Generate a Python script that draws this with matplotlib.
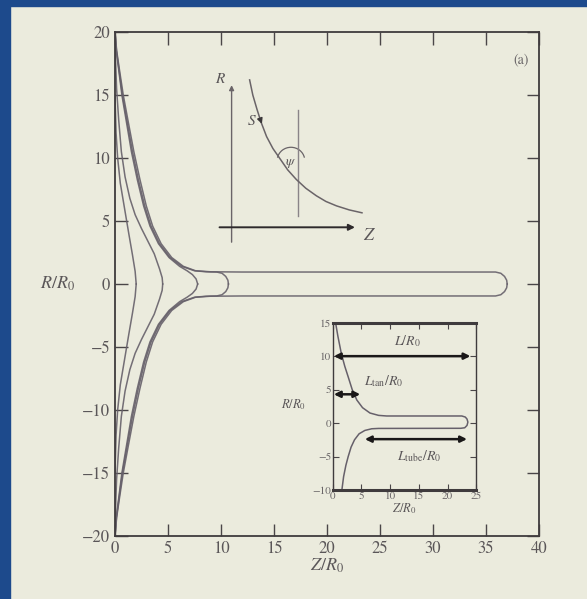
import matplotlib.pyplot as plt
from matplotlib.patches import Rectangle, Arc

plt.rcParams['font.family'] = ['STIXGeneral', 'DejaVu Serif']
plt.rcParams['mathtext.fontset'] = 'stix'

# membrane shapes, upper half (Z/R0, R/R0); lower half is the mirror image
shape_a_z = [0.0, 0.1, 0.25, 0.5, 0.9, 1.3, 1.65, 1.9, 2.0]
shape_a_r = [15, 12, 10, 8, 6, 4, 2.3, 1.0, 0]
shape_b_z = [0.0, 0.15, 0.35, 0.6, 0.95, 1.4, 1.9, 2.5, 3.1, 3.7, 4.2, 4.45, 4.5]
shape_b_r = [19, 15.5, 13, 10.5, 8.5, 6.8, 5.5, 4.4, 3.4, 2.4, 1.2, 0.5, 0]
shape_c_z = [0.0, 0.12, 0.35, 0.65, 1.05, 1.55, 2.1, 2.7, 3.3, 4.1, 5.1, 6.1, 6.8, 7.3, 7.65, 7.8]
shape_c_r = [20, 18.5, 17, 15, 13, 10.5, 8.3, 6.2, 4.6, 3.2, 2.1, 1.4, 1.05, 0.75, 0.4, 0]
shape_d_z = [0.0, 0.14, 0.38, 0.7, 1.12, 1.65, 2.2, 2.8, 3.4, 4.2, 5.2, 6.3, 7.5, 8.6, 9.6, 10.1, 10.45, 10.65, 10.7]
shape_d_r = [20, 18.5, 17, 15, 13, 10.5, 8.3, 6.2, 4.6, 3.2, 2.1, 1.4, 1.05, 0.97, 0.95, 0.85, 0.6, 0.3, 0]
shape_e_z = [0.0, 0.16, 0.42, 0.78, 1.22, 1.78, 2.35, 2.95, 3.55, 4.35, 5.35, 6.45, 7.6, 9.0, 12, 20, 30,
             35.9, 36.4, 36.75, 36.95, 37.0]
shape_e_r = [20, 18.5, 17, 15, 13, 10.5, 8.3, 6.2, 4.6, 3.2, 2.1, 1.4, 1.05, 0.97, 0.95, 0.95, 0.95,
             0.95, 0.85, 0.6, 0.3, 0]
shapes = [(shape_a_z, shape_a_r), (shape_b_z, shape_b_r), (shape_c_z, shape_c_r),
          (shape_d_z, shape_d_r), (shape_e_z, shape_e_r)]

# sketch of the coordinates (drawn in main-axes units)
sketch_curve_z = [12.7, 13.0, 13.4, 13.8, 14.3, 14.9, 15.6, 16.3, 17.1, 18.0, 19.0, 19.9, 20.9, 22.1, 23.3]
sketch_curve_r = [16.2, 15.0, 13.85, 12.8, 11.7, 10.75, 9.9, 9.05, 8.3, 7.6, 7.0, 6.55, 6.2, 5.88, 5.65]

# inset: the long tube shape
inset_z = [0.5, 0.9, 1.5, 2.1, 2.7, 3.4, 4.2, 5.2, 6.5, 8.0, 9.4, 22.5, 23.1, 23.4, 23.55,
           23.4, 23.0, 22.3, 8.0, 6.8, 5.6, 4.6, 3.8, 3.2, 2.7, 2.3, 1.9, 1.6]
inset_r = [15, 13, 10.4, 8.5, 6.9, 5.0, 3.45, 2.3, 1.5, 1.15, 1.06, 1.06, 0.9, 0.6, 0.15,
           -0.35, -0.7, -0.78, -0.8, -0.85, -1.1, -1.6, -2.5, -3.6, -5.0, -6.3, -8.0, -10]

main_ticks = [0, 5, 10, 15, 20, 25, 30, 35, 40]
main_rticks = [-20, -15, -10, -5, 0, 5, 10, 15, 20]
inset_zticks = [0, 5, 10, 15, 20, 25]
inset_rticks = [-10, -5, 0, 5, 10, 15]

bg = '#ebebdd'
ink = '#4a4648'
curve_col = '#66606a'
label_col = '#5a5658'

fig = plt.figure(figsize=(5.87, 5.99), dpi=100, facecolor=bg)
# slide border
fig.patches.append(Rectangle((0, 0), 10 / 587, 1, transform=fig.transFigure, color='#1d4a8c', zorder=0))
fig.patches.append(Rectangle((0, 1 - 6 / 599), 1, 6 / 599, transform=fig.transFigure, color='#1d4a8c', zorder=0))

ax = fig.add_axes([115 / 587, 1 - 536 / 599, 424 / 587, 504 / 599])
ax.set_facecolor(bg)
for z, r in shapes:
    ax.plot(z, r, color=curve_col, lw=1.1, alpha=0.9, solid_joinstyle='round')
    ax.plot(z, [-v for v in r], color=curve_col, lw=1.1, alpha=0.9, solid_joinstyle='round')

ax.set_xlim(0, 40)
ax.set_ylim(-20, 20)
ax.set_xticks(main_ticks)
ax.set_yticks(main_rticks)
ax.set_yticklabels(['\u221220', '\u221215', '\u221210', '\u22125', '0', '5', '10', '15', '20'])
ax.tick_params(direction='in', length=9, width=1.0, top=True, right=True, labelsize=12,
               colors=ink, labelcolor=label_col)
for s in ax.spines.values():
    s.set_color('#3f3b3d')
    s.set_linewidth(1.3)
ax.text(-5.4, 0, '$R/R_0$', fontsize=13, color=label_col, ha='center', va='center')
ax.set_xlabel('$Z/R_0$', fontsize=13, color=label_col, labelpad=0)
ax.text(38.3, 17.8, '(a)', fontsize=10, color='#6a6668', ha='center', va='center')

# coordinate sketch
ax.annotate('', xy=(11.0, 16.0), xytext=(11.0, 3.1),
            arrowprops=dict(arrowstyle='-|>', color='#6a6468', lw=1.0, mutation_scale=7))
ax.annotate('', xy=(22.9, 4.5), xytext=(9.6, 4.5),
            arrowprops=dict(arrowstyle='-|>', color='#2e2a2c', lw=1.4, mutation_scale=9))
ax.plot([17.3, 17.3], [5.4, 13.8], color='#8a8488', lw=1.0)
ax.plot(sketch_curve_z, sketch_curve_r, color='#6a6468', lw=1.1, solid_joinstyle='round')
ax.annotate('', xy=(13.95, 12.5), xytext=(13.6, 13.3),
            arrowprops=dict(arrowstyle='-|>', color='#3a3638', lw=1.0, mutation_scale=8))
ax.add_patch(Arc((16.6, 9.8), 2.6, 2.1, theta1=10, theta2=170, color='#6a6468', lw=0.9))
ax.text(10.0, 16.3, '$R$', fontsize=11, color=label_col, ha='center', va='center')
ax.text(12.9, 12.9, '$S$', fontsize=11, color=label_col, ha='center', va='center')
ax.text(16.6, 9.6, r'$\psi$', fontsize=10, color=label_col, ha='center', va='center')
ax.text(24.0, 3.8, '$Z$', fontsize=13, color=label_col, ha='center', va='center')

# inset
ins = fig.add_axes([332.7 / 587, 1 - 490 / 599, 143.5 / 587, 167.3 / 599])
ins.set_facecolor(bg)
ins.plot(inset_z, inset_r, color=curve_col, lw=1.1, solid_joinstyle='round')
ins.set_xlim(0, 25)
ins.set_ylim(-10, 15)
ins.set_xticks(inset_zticks)
ins.set_yticks(inset_rticks)
ins.set_yticklabels(['\u221210', '\u22125', '0', '5', '10', '15'])
ins.tick_params(direction='in', length=4, width=0.8, top=True, right=True, labelsize=8,
                colors=ink, labelcolor='#6a6668', pad=1)
for s in ins.spines.values():
    s.set_color('#3f3b3d')
    s.set_linewidth(1.0)
ins.spines['top'].set_linewidth(2.2)
ins.spines['bottom'].set_linewidth(2.2)
arrow = dict(arrowstyle='<|-|>', color='#1a1818', lw=1.8, mutation_scale=9, shrinkA=0, shrinkB=0)
ins.annotate('', xy=(0.2, 10), xytext=(24.0, 10), arrowprops=arrow)
ins.annotate('', xy=(0.2, 4.3), xytext=(4.8, 4.3), arrowprops=arrow)
ins.annotate('', xy=(5.6, -2.4), xytext=(23.4, -2.4), arrowprops=arrow)
ins.text(13.0, 12.2, '$L/R_0$', fontsize=10, color=label_col, ha='center', va='center')
ins.text(8.9, 6.2, r'$L_{\rm tan}/R_0$', fontsize=10, color=label_col, ha='center', va='center')
ins.text(15.0, -5.0, r'$L_{\rm tube}/R_0$', fontsize=10, color=label_col, ha='center', va='center')
ins.text(-6.8, 2.8, '$R/R_0$', fontsize=9, color=label_col, ha='center', va='center')
ins.set_xlabel('$Z/R_0$', fontsize=9, color=label_col, labelpad=0)

fig.savefig('out.png', dpi=100, facecolor=bg)
